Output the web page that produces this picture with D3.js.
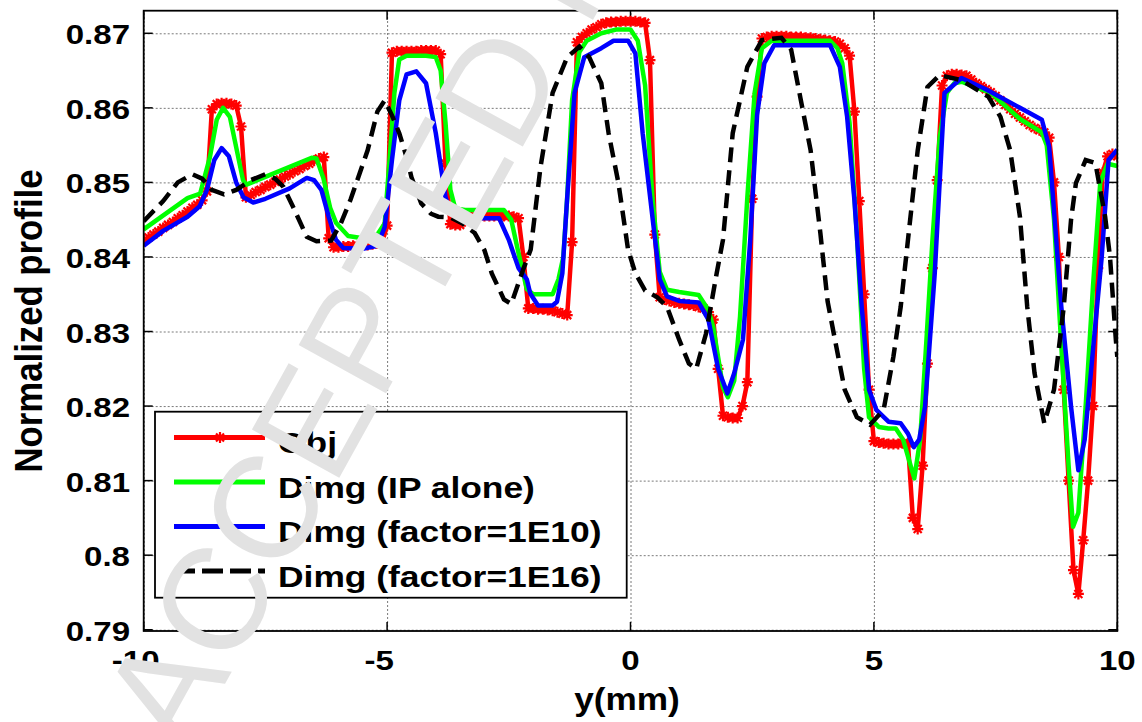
<!DOCTYPE html>
<html>
<head>
<meta charset="utf-8">
<script src="https://cdn.jsdelivr.net/npm/d3@7"></script>
<style>
  body { margin: 0; background: #fff; }
  text { font-family: "Liberation Sans", Arial, sans-serif; font-weight: bold; }
</style>
</head>
<body>
<div id="canvas"></div>
<script>
// Obj sampled every 0.1 mm from -10 to 10
const objY = [
  0.8422, 0.8426, 0.8430, 0.8434, 0.8439, 0.8443, 0.8447, 0.8452, 0.8456, 0.8461,
  0.8466, 0.8470, 0.8476, 0.8488, 0.8598, 0.8605, 0.8606, 0.8606, 0.8605, 0.8603,
  0.8575, 0.8480, 0.8483, 0.8487, 0.8490, 0.8494, 0.8497, 0.8501, 0.8504, 0.8508,
  0.8511, 0.8515, 0.8518, 0.8522, 0.8525, 0.8529, 0.8532, 0.8534, 0.8425, 0.8413,
  0.8413, 0.8414, 0.8414, 0.8415, 0.8415, 0.8416, 0.8416, 0.8417, 0.8418, 0.8420,
  0.8442, 0.8674, 0.8676, 0.8676, 0.8676, 0.8676, 0.8676, 0.8677, 0.8677, 0.8677,
  0.8677, 0.8672, 0.8525, 0.8444, 0.8443, 0.8443, 0.8448, 0.8454, 0.8455, 0.8455,
  0.8455, 0.8455, 0.8455, 0.8455, 0.8455, 0.8455, 0.8454, 0.8452, 0.8400, 0.8331,
  0.8331, 0.8330, 0.8330, 0.8329, 0.8328, 0.8326, 0.8324, 0.8322, 0.8420, 0.8688,
  0.8695, 0.8700, 0.8705, 0.8708, 0.8712, 0.8714, 0.8715, 0.8715, 0.8716, 0.8716,
  0.8716, 0.8716, 0.8715, 0.8714, 0.8664, 0.8430, 0.8346, 0.8343, 0.8341, 0.8339,
  0.8338, 0.8337, 0.8336, 0.8335, 0.8333, 0.8331, 0.8326, 0.8316, 0.8250, 0.8187,
  0.8185, 0.8184, 0.8184, 0.8200, 0.8232, 0.8478, 0.8615, 0.8693, 0.8695, 0.8696,
  0.8696, 0.8696, 0.8696, 0.8695, 0.8695, 0.8695, 0.8694, 0.8694, 0.8693, 0.8692,
  0.8691, 0.8690, 0.8689, 0.8686, 0.8680, 0.8670, 0.8595, 0.8475, 0.8350, 0.8222,
  0.8153, 0.8151, 0.8150, 0.8149, 0.8149, 0.8149, 0.8150, 0.8150, 0.8050, 0.8035,
  0.8120, 0.8257, 0.8385, 0.8503, 0.8630, 0.8643, 0.8645, 0.8645, 0.8644, 0.8643,
  0.8638, 0.8633, 0.8629, 0.8625, 0.8621, 0.8616, 0.8610, 0.8604, 0.8598, 0.8592,
  0.8587, 0.8582, 0.8577, 0.8573, 0.8570, 0.8567, 0.8560, 0.8500, 0.8400, 0.8222,
  0.8100, 0.7980, 0.7948, 0.8020, 0.8100, 0.8200, 0.8385, 0.8513, 0.8535, 0.8538,
  0.8535
];
const objX = objY.map((d, i) => -10 + i * 0.1);

// Dimg (IP alone)  [y(mm), profile]
const ipAlone = [
  [-10, 0.8437], [-9.1, 0.8479], [-8.84, 0.8485], [-8.64, 0.8534], [-8.5, 0.8584], [-8.37, 0.8600],
  [-8.23, 0.8588], [-8.09, 0.8544], [-7.96, 0.8503], [-7.89, 0.8497], [-6.55, 0.8533], [-6.45, 0.8532],
  [-6.31, 0.8506], [-6.17, 0.8466], [-6.05, 0.8446], [-5.8, 0.8428], [-5.5, 0.8425], [-5.2, 0.8430],
  [-5.05, 0.8445], [-4.95, 0.8530], [-4.85, 0.8620], [-4.75, 0.8665], [-4.6, 0.8670], [-4.2, 0.8670],
  [-4.0, 0.8668], [-3.9, 0.8650], [-3.8, 0.8580], [-3.7, 0.8490], [-3.6, 0.8465], [-3.4, 0.8463],
  [-2.6, 0.8463], [-2.45, 0.8450], [-2.3, 0.8405], [-2.13, 0.8357], [-2.0, 0.8350], [-1.6, 0.8350],
  [-1.48, 0.8370], [-1.38, 0.8400], [-1.3, 0.8480], [-1.2, 0.8610], [-1.05, 0.8675], [-0.9, 0.8690],
  [-0.6, 0.8700], [-0.3, 0.8705], [0.0, 0.8705], [0.15, 0.8690], [0.3, 0.8630], [0.45, 0.8480],
  [0.6, 0.8380], [0.75, 0.8356], [1.0, 0.8353], [1.4, 0.8349], [1.6, 0.8329], [1.7, 0.8306],
  [1.9, 0.8225], [2.0, 0.8212], [2.13, 0.8234], [2.25, 0.8320], [2.4, 0.8480], [2.55, 0.8620],
  [2.7, 0.8680], [2.9, 0.8690], [4.1, 0.8690], [4.25, 0.8680], [4.35, 0.8660], [4.5, 0.8580],
  [4.65, 0.8430], [4.8, 0.8250], [4.9, 0.8185], [5.1, 0.8172], [5.3, 0.8170], [5.45, 0.8170],
  [5.6, 0.8155], [5.83, 0.8103], [5.95, 0.8155], [6.08, 0.8289], [6.2, 0.8420], [6.35, 0.8560],
  [6.5, 0.8620], [6.65, 0.8633], [6.8, 0.8635], [7.4, 0.8620], [8.0, 0.8585], [8.45, 0.8567],
  [8.55, 0.8550], [8.7, 0.8450], [8.85, 0.8280], [9.0, 0.8120], [9.09, 0.8038], [9.2, 0.8057],
  [9.35, 0.8200], [9.5, 0.8360], [9.65, 0.8500], [9.8, 0.8525], [10, 0.8522]
];

// Dimg (factor=1E10)
const factor10 = [
  [-10, 0.8415], [-9.6, 0.8435], [-9.1, 0.8454], [-8.85, 0.8468], [-8.7, 0.8490], [-8.55, 0.8530],
  [-8.4, 0.8546], [-8.25, 0.8535], [-8.1, 0.8500], [-7.95, 0.8480], [-7.75, 0.8473], [-7.5, 0.8478],
  [-7.0, 0.8492], [-6.65, 0.8506], [-6.5, 0.8503], [-6.35, 0.8490], [-6.2, 0.8454], [-6.05, 0.8423],
  [-5.9, 0.8412], [-5.5, 0.8411], [-5.2, 0.8415], [-5.05, 0.8440], [-4.9, 0.8530], [-4.75, 0.8610],
  [-4.6, 0.8645], [-4.4, 0.8649], [-4.2, 0.8633], [-4.0, 0.8566], [-3.8, 0.8480], [-3.7, 0.8460],
  [-3.55, 0.8452], [-2.7, 0.8452], [-2.5, 0.8423], [-2.3, 0.8385], [-2.13, 0.8370], [-2.06, 0.8351],
  [-1.9, 0.8335], [-1.6, 0.8335], [-1.51, 0.8340], [-1.4, 0.8378], [-1.3, 0.8480], [-1.15, 0.8620],
  [-0.95, 0.8668], [-0.6, 0.8680], [-0.35, 0.8690], [-0.05, 0.8690], [0.1, 0.8673], [0.25, 0.8566],
  [0.45, 0.8454], [0.6, 0.8370], [0.75, 0.8347], [1.0, 0.8341], [1.4, 0.8339], [1.6, 0.8316],
  [1.8, 0.8250], [1.99, 0.8217], [2.13, 0.8244], [2.31, 0.8289], [2.46, 0.8423], [2.6, 0.8590],
  [2.75, 0.8660], [2.95, 0.8684], [4.1, 0.8684], [4.3, 0.8655], [4.45, 0.8588], [4.6, 0.8476],
  [4.75, 0.8333], [4.9, 0.8222], [5.05, 0.8195], [5.3, 0.8179], [5.55, 0.8177], [5.7, 0.8163],
  [5.82, 0.8145], [5.93, 0.8155], [6.05, 0.8199], [6.25, 0.8378], [6.45, 0.8620], [6.8, 0.8640],
  [7.3, 0.8625], [8.0, 0.8600], [8.45, 0.8584], [8.6, 0.8548], [8.85, 0.8333], [9.05, 0.8199],
  [9.2, 0.8114], [9.33, 0.8155], [9.52, 0.8289], [9.68, 0.8400], [9.82, 0.8530], [10, 0.8544]
];

// Dimg (factor=1E16)
const factor16 = [
  [-10, 0.8448], [-9.6, 0.8475], [-9.3, 0.8500], [-9.0, 0.8511], [-8.8, 0.8505], [-8.6, 0.8490],
  [-8.35, 0.8484], [-8.1, 0.8490], [-7.8, 0.8503], [-7.5, 0.8511], [-7.3, 0.8505], [-7.13, 0.8494],
  [-6.93, 0.8467], [-6.65, 0.8427], [-6.45, 0.8421], [-6.15, 0.8422], [-5.95, 0.8445], [-5.75, 0.8477],
  [-5.4, 0.8543], [-5.2, 0.8595], [-5.05, 0.8610], [-4.9, 0.8590], [-4.75, 0.8566], [-4.6, 0.8534],
  [-4.5, 0.8507], [-4.3, 0.8472], [-4.1, 0.8458], [-3.95, 0.8454], [-3.7, 0.8453], [-3.45, 0.8445],
  [-3.2, 0.8432], [-3.0, 0.8409], [-2.85, 0.8378], [-2.6, 0.8343], [-2.45, 0.8337], [-2.2, 0.8384],
  [-2.05, 0.8410], [-1.85, 0.8520], [-1.6, 0.8620], [-1.3, 0.8668], [-1.05, 0.8682], [-0.85, 0.8668],
  [-0.6, 0.8633], [-0.45, 0.8566], [-0.25, 0.8500], [-0.05, 0.8410], [0.1, 0.8378], [0.3, 0.8355],
  [0.55, 0.8346], [0.75, 0.8333], [1.0, 0.8289], [1.2, 0.8257], [1.35, 0.8250], [1.55, 0.8297],
  [1.77, 0.8378], [1.9, 0.8423], [2.1, 0.8566], [2.4, 0.8655], [2.7, 0.8691], [3.1, 0.8694],
  [3.3, 0.8678], [3.5, 0.8610], [3.7, 0.8543], [3.9, 0.8432], [4.05, 0.8340], [4.2, 0.8289],
  [4.4, 0.8222], [4.65, 0.8185], [4.92, 0.8175], [5.2, 0.8195], [5.4, 0.8266], [5.55, 0.8333],
  [5.7, 0.8423], [5.9, 0.8543], [6.1, 0.8628], [6.35, 0.8644], [6.8, 0.8637], [7.35, 0.8615],
  [7.6, 0.8588], [7.8, 0.8543], [8.0, 0.8454], [8.15, 0.8333], [8.3, 0.8244], [8.5, 0.8177],
  [8.7, 0.8222], [8.9, 0.8333], [9.05, 0.8450], [9.15, 0.8499], [9.35, 0.8530], [9.55, 0.8526],
  [9.75, 0.8454], [9.85, 0.8400], [9.97, 0.8289], [10, 0.8266]
];

const xTicks = [-10, -5, 0, 5, 10];
const yTicks = [0.79, 0.80, 0.81, 0.82, 0.83, 0.84, 0.85, 0.86, 0.87];
const legendLabels = ['Obj', 'Dimg (IP alone)', 'Dimg (factor=1E10)', 'Dimg (factor=1E16)'];

const W = 1142, H = 722;
const pLeft = 143.7, pRight = 1117.3, pTop = 10.7, pBottom = 631;

let svg = d3.select("#canvas").append("svg")
    .attr("width", W)
    .attr("height", H)

const x = d3.scaleLinear().domain([-10, 10]).range([pLeft, pRight])
const y = d3.scaleLinear().domain([0.78983, 0.87303]).range([pBottom, pTop])

// grid
svg.append("g")
    .attr("transform", `translate(0,${pBottom})`)
    .call(d3.axisBottom(x).tickValues(xTicks).tickSize(-(pBottom - pTop)).tickFormat(""))
    .call(g => g.select(".domain").remove())
    .selectAll("line")
    .attr("stroke", "#7a7a7a").attr("stroke-width", 1).attr("stroke-dasharray", "2,2")
svg.append("g")
    .attr("transform", `translate(${pLeft},0)`)
    .call(d3.axisLeft(y).tickValues(yTicks).tickSize(-(pRight - pLeft)).tickFormat(""))
    .call(g => g.select(".domain").remove())
    .selectAll("line")
    .attr("stroke", "#7a7a7a").attr("stroke-width", 1).attr("stroke-dasharray", "2,2")

// ticks inward on all four sides
const tk = 9
const tickG = svg.append("g").attr("stroke", "black").attr("stroke-width", 1.5)
tickG.selectAll(".tb").data(xTicks).enter().append("line")
    .attr("x1", d => x(d)).attr("x2", d => x(d)).attr("y1", pBottom).attr("y2", pBottom - tk)
tickG.selectAll(".tt").data(xTicks).enter().append("line")
    .attr("x1", d => x(d)).attr("x2", d => x(d)).attr("y1", pTop).attr("y2", pTop + tk)
tickG.selectAll(".tl").data(yTicks).enter().append("line")
    .attr("x1", pLeft).attr("x2", pLeft + tk).attr("y1", d => y(d)).attr("y2", d => y(d))
tickG.selectAll(".tr").data(yTicks).enter().append("line")
    .attr("x1", pRight).attr("x2", pRight - tk).attr("y1", d => y(d)).attr("y2", d => y(d))

svg.append("clipPath").attr("id", "plotclip").append("rect")
    .attr("x", pLeft).attr("y", pTop).attr("width", pRight - pLeft).attr("height", pBottom - pTop)

const plot = svg.append("g").attr("clip-path", "url(#plotclip)")
const line = d3.line().x(d => x(d[0])).y(d => y(d[1]))
const objPts = objY.map((v, i) => [objX[i], v])

const star = "M-5.5,0H5.5M0,-5.5V5.5M-4,-4L4,4M-4,4L4,-4"

plot.append("path").datum(objPts)
    .attr("d", line).attr("fill", "none").attr("stroke", "#ff0000").attr("stroke-width", 4.5)
plot.selectAll(".objm").data(objPts).enter().append("path")
    .attr("d", star)
    .attr("transform", d => `translate(${x(d[0])},${y(d[1])})`)
    .attr("fill", "none").attr("stroke", "#ff0000").attr("stroke-width", 2.2)

plot.append("path").datum(ipAlone)
    .attr("d", line).attr("fill", "none").attr("stroke", "#00ff00").attr("stroke-width", 4.5)
    .attr("stroke-linejoin", "round")
plot.append("path").datum(factor10)
    .attr("d", line).attr("fill", "none").attr("stroke", "#0000ff").attr("stroke-width", 4.5)
    .attr("stroke-linejoin", "round")
plot.append("path").datum(factor16)
    .attr("d", line).attr("fill", "none").attr("stroke", "black").attr("stroke-width", 4.5)
    .attr("stroke-dasharray", "15,8")

// axes box
svg.append("rect")
    .attr("x", pLeft).attr("y", pTop).attr("width", pRight - pLeft).attr("height", pBottom - pTop)
    .attr("fill", "none").attr("stroke", "black").attr("stroke-width", 1.8)

// tick labels
svg.selectAll(".ylab").data(yTicks).enter().append("text")
    .attr("transform", d => `translate(130,${y(d) + 11}) scale(1.18,1)`)
    .attr("text-anchor", "end")
    .attr("font-size", 28)
    .text(d => d3.format(".2~f")(d))
svg.selectAll(".xlab").data(xTicks).enter().append("text")
    .attr("transform", d => `translate(${x(d) - (d < 0 ? 8 : 0)},670) scale(1.18,1)`)
    .attr("text-anchor", "middle")
    .attr("font-size", 28)
    .text(d => d)

svg.append("text")
    .attr("transform", "translate(627,710) scale(1.1,1)")
    .attr("text-anchor", "middle").attr("font-size", 32)
    .text("y(mm)")
svg.append("text")
    .attr("transform", "translate(42,321) scale(1.2,1) rotate(-90) scale(1.086,1)")
    .attr("text-anchor", "middle").attr("font-size", 32)
    .text("Normalized profile")

// legend
const lg = svg.append("g")
lg.append("rect")
    .attr("x", 155).attr("y", 411.7).attr("width", 471.7).attr("height", 186)
    .attr("fill", "white").attr("stroke", "black").attr("stroke-width", 1.8)
const legendStyle = [
  { color: "#ff0000", dash: null },
  { color: "#00ff00", dash: null },
  { color: "#0000ff", dash: null },
  { color: "black", dash: "21,7" }
]
legendLabels.forEach((lab, i) => {
  const base = 453 + i * 44.5
  lg.append("line")
      .attr("x1", 174).attr("x2", 265).attr("y1", base - 15.5).attr("y2", base - 15.5)
      .attr("stroke", legendStyle[i].color).attr("stroke-width", 5)
      .attr("stroke-dasharray", legendStyle[i].dash)
  if (i === 0) {
    lg.append("path").attr("d", star)
        .attr("transform", `translate(220,${base - 15.5})`)
        .attr("fill", "none").attr("stroke", "#ff0000").attr("stroke-width", 2.2)
  }
  lg.append("text")
      .attr("transform", `translate(278,${base}) scale(1.18,1)`)
      .attr("font-size", 30)
      .text(lab)
})

// watermark
svg.append("text")
    .attr("transform", "translate(185,756) rotate(-61)")
    .attr("font-size", 145)
    .style("font-weight", "normal")
    .attr("fill", "#e2e2e2")
    .text("ACCEPTED MANUSCRIPT")
</script>
</body>
</html>
